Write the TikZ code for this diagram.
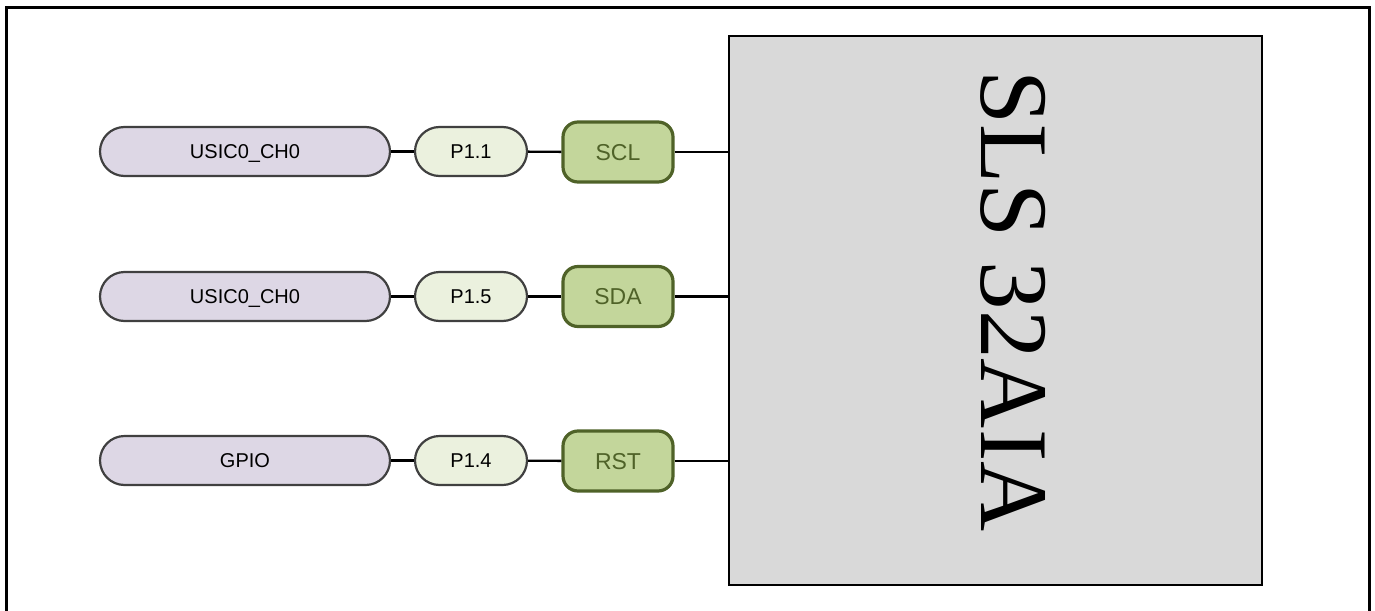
\documentclass[tikz,border=0pt]{standalone}
\usepackage{fontspec}
\setmainfont{Liberation Sans}
\newfontfamily\serifchip{Liberation Serif}
\definecolor{purplefill}{HTML}{DDD7E5}
\definecolor{pinfill}{HTML}{EBF1DE}
\definecolor{greenfill}{HTML}{C3D69B}
\definecolor{greendark}{HTML}{4F6228}
\definecolor{edgegray}{HTML}{404040}
\definecolor{chipfill}{HTML}{D9D9D9}
\tikzset{
  srcbox/.style={draw=edgegray, line width=2.2pt, fill=purplefill, rounded corners=24.5pt,
    minimum width=290pt, minimum height=49pt, inner sep=0pt, text depth=0pt, font=\fontsize{20pt}{24pt}\selectfont},
  pinbox/.style={draw=edgegray, line width=2.2pt, fill=pinfill, rounded corners=24.5pt,
    minimum width=112pt, minimum height=49pt, inner sep=0pt, text depth=0pt, font=\fontsize{20pt}{24pt}\selectfont},
  sigbox/.style={draw=greendark, line width=3.2pt, fill=greenfill, rounded corners=15pt,
    minimum width=110pt, minimum height=60pt, inner sep=0pt, text depth=0pt, text=greendark, font=\fontsize{23pt}{27pt}\selectfont},
  wire/.style={draw=black, line width=2.4pt},
}
\begin{document}
\begin{tikzpicture}[x=1pt,y=-1pt]
\useasboundingbox (0,0) rectangle (1375,610);
\draw[line width=3pt] (6,612) -- (6,8) -- (1369,8) -- (1369,612);
\node[draw=black, line width=2.4pt, fill=chipfill, minimum width=533pt, minimum height=549pt, inner sep=0pt] (chip) at (995.5,310.5) {};
\node[rotate=-90, font=\serifchip\fontsize{97pt}{100pt}\selectfont, inner sep=0pt] (chiplabel) at (1013,301) {SLS 32AIA};

\node[srcbox] (src1) at (245,151.5) {USIC0\_CH0};
\node[pinbox] (pin1) at (471,151.5) {P1.1};
\node[sigbox] (sig1) at (618,152) {SCL};

\node[srcbox] (src2) at (245,296.5) {USIC0\_CH0};
\node[pinbox] (pin2) at (471,296.5) {P1.5};
\node[sigbox] (sig2) at (618,296.5) {SDA};

\node[srcbox] (src3) at (245,460.5) {GPIO};
\node[pinbox] (pin3) at (471,460.5) {P1.4};
\node[sigbox] (sig3) at (618,461) {RST};

\foreach \i in {1,2,3}{
  \draw[wire] (src\i) -- (pin\i);
  \draw[wire] (pin\i) -- (sig\i);
  \draw[wire] (sig\i) -- (sig\i -| chip.west);
}
\end{tikzpicture}
\end{document}
